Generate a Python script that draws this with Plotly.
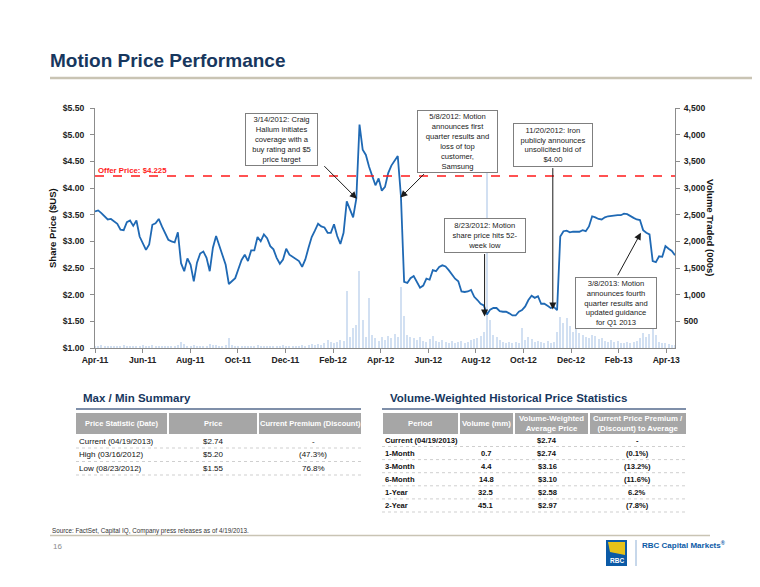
import pandas as pd
import plotly.graph_objects as go

# ---------------- DATA ----------------
START = "2011-04-19"
END = "2013-04-19"

PRICE = [
    3.56, 3.58, 3.53, 3.46, 3.41, 3.42, 3.37, 3.33, 3.22, 3.21,
    3.36, 3.39, 3.29, 3.39, 3.09, 2.97, 2.84, 2.94, 3.31, 3.34,
    3.42, 3.28, 3.14, 3.03, 3.00, 2.98, 3.17, 2.59, 2.44, 2.68,
    2.56, 2.25, 2.60, 2.77, 2.81, 2.69, 2.44, 2.88, 3.10, 2.91,
    2.75, 2.56, 2.20, 2.25, 2.31, 2.48, 2.65, 2.75, 2.63, 2.83,
    2.83, 3.08, 3.00, 3.13, 3.06, 2.91, 2.85, 2.69, 2.58, 2.66,
    2.86, 2.75, 2.71, 2.68, 2.63, 2.52, 2.66, 2.88, 3.08, 3.20,
    3.33, 3.28, 3.26, 3.16, 3.16, 3.32, 3.10, 2.95, 3.16, 3.75,
    3.60, 3.45, 3.80, 5.19, 4.72, 4.62, 4.40, 4.22, 4.05, 4.18,
    3.95, 4.02, 4.28, 4.42, 4.50, 4.60, 3.85, 2.24, 2.22, 2.31,
    2.35, 2.25, 2.13, 2.17, 2.30, 2.28, 2.46, 2.44, 2.52, 2.55,
    2.53, 2.46, 2.38, 2.30, 2.25, 2.06, 2.05, 2.06, 2.09, 1.96,
    1.90, 1.83, 1.80, 1.63, 1.72, 1.75, 1.75, 1.69, 1.68, 1.68,
    1.65, 1.61, 1.61, 1.68, 1.71, 1.78, 1.90, 1.98, 1.94, 1.97,
    1.83, 1.83, 1.79, 1.75, 1.77, 1.71, 3.09, 3.19, 3.20, 3.17,
    3.18, 3.18, 3.18, 3.21, 3.19, 3.28, 3.47, 3.45, 3.42, 3.41,
    3.45, 3.47, 3.48, 3.48, 3.49, 3.49, 3.52, 3.51, 3.47, 3.44,
    3.41, 3.40, 3.21, 3.16, 3.13, 2.63, 2.61, 2.72, 2.71, 2.91,
    2.86, 2.82, 2.74,
]

VOLUME = [
    40, 30, 60, 35, 25, 45, 30, 20, 35, 50,
    30, 25, 40, 20, 35, 55, 30, 45, 60, 40,
    30, 25, 35, 45, 30, 20, 50, 120, 70, 40,
    35, 60, 45, 30, 25, 40, 75, 50, 60, 40,
    30, 55, 190, 60, 45, 30, 25, 40, 35, 30,
    45, 60, 40, 30, 35, 25, 30, 40, 35, 50,
    45, 30, 25, 40, 35, 55, 45, 60, 70, 50,
    80, 60, 90, 155, 120, 90, 110, 150, 130, 1060,
    200, 380, 440, 1440, 520, 200, 940, 250, 180, 140,
    200, 150, 230, 180, 260, 200, 1150, 600, 250, 200,
    180, 150, 200, 140, 120, 160, 220, 130, 110, 150,
    120, 100, 140, 90, 110, 130, 100, 120, 150, 160,
    180, 220, 300, 3290, 530, 250, 200, 150, 120, 100,
    110, 90, 120, 100, 380, 150, 200, 160, 120, 140,
    110, 100, 130, 90, 120, 300, 590, 470, 560, 420,
    300, 350, 280, 250, 200, 180, 250, 220, 160, 190,
    140, 120, 150, 110, 130, 100, 90, 120, 100, 110,
    130, 180, 290, 200, 260, 405, 250, 120, 100, 90,
    80, 60, 50,
]

X_TICK_LABELS = ["Apr-11", "Jun-11", "Aug-11", "Oct-11", "Dec-11", "Feb-12", "Apr-12",
                 "Jun-12", "Aug-12", "Oct-12", "Dec-12", "Feb-13", "Apr-13"]
PRICE_TICKS = [1.0, 1.5, 2.0, 2.5, 3.0, 3.5, 4.0, 4.5, 5.0, 5.5]
VOLUME_TICKS = [500, 1000, 1500, 2000, 2500, 3000, 3500, 4000, 4500]
OFFER_PRICE = 4.225

EVENT_TEXTS = [
    "3/14/2012: Craig<br>Hallum initiates<br>coverage with a<br>buy rating and $5<br>price target",
    "5/8/2012: Motion<br>announces first<br>quarter results and<br>loss of top<br>customer,<br>Samsung",
    "11/20/2012: Iron<br>publicly announces<br>unsolicited bid of<br>$4.00",
    "8/23/2012: Motion<br>share price hits 52-<br>week low",
    "3/8/2013: Motion<br>announces fourth<br>quarter results and<br>updated guidance<br>for Q1 2013",
]
EVENT_DATES = ["2012-03-14", "2012-05-08", "2012-11-16", "2012-08-22", "2013-03-07"]
EVENT_PRICES = [3.80, 3.82, 1.72, 1.59, 3.16]

MM_HEADER = ["Price Statistic (Date)", "Price", "Current Premium (Discount)"]
MM_STAT = ["Current (04/19/2013)", "High (03/16/2012)", "Low (08/23/2012)"]
MM_PRICE = ["$2.74", "$5.20", "$1.55"]
MM_PREMIUM = ["-", "(47.3%)", "76.8%"]

VW_HEADER = ["Period", "Volume (mm)", "Volume-Weighted<br>Average Price",
             "Current Price Premium /<br>(Discount) to Average"]
VW_PERIOD = ["Current (04/19/2013)", "1-Month", "3-Month", "6-Month", "1-Year", "2-Year"]
VW_VOLUME = ["", "0.7", "4.4", "14.8", "32.5", "45.1"]
VW_VWAP = ["$2.74", "$2.74", "$3.16", "$3.10", "$2.58", "$2.97"]
VW_PREMIUM = ["-", "(0.1%)", "(13.2%)", "(11.6%)", "6.2%", "(7.8%)"]

# ---------------- STYLE / GEOMETRY ----------------
FONT = "Liberation Sans, Arial, sans-serif"
NAVY = "#17375e"
PAGE_W, PAGE_H = 760, 587
OFF = 8  # the page body has an 8px margin; the figure is drawn from (8, 8)
W, H = PAGE_W - OFF, PAGE_H - OFF
L, R, T, B = 95, 675, 108, 348          # plot area in page pixels
AXIS_GRAY = "#8c8c8c"


def px(x):
    return (x - L) / (R - L)


def py(y):
    return (B - y) / (B - T)


dates = pd.date_range(START, END, periods=len(PRICE))
tickvals = [pd.Timestamp(START) + pd.Timedelta(days=60 * k) for k in range(len(X_TICK_LABELS))]

fig = go.Figure()
fig.add_trace(go.Bar(x=dates, y=VOLUME, yaxis="y", marker=dict(color="#d2e0f2", line=dict(width=0)),
                     width=1.3 * 86400000, hoverinfo="skip"))
fig.add_trace(go.Scatter(x=dates, y=PRICE, yaxis="y2", mode="lines",
                         line=dict(color="#1f69b4", width=1.8)))

tickfont = dict(size=8.6, weight="bold", color="#222222", family=FONT)
fig.update_layout(
    width=W, height=H,
    margin=dict(l=L - OFF, r=PAGE_W - R, t=T - OFF, b=PAGE_H - B, pad=0),
    paper_bgcolor="white", plot_bgcolor="white",
    showlegend=False,
    font=dict(family=FONT, color="#222222"),
    bargap=0,
    xaxis=dict(type="date", range=[START, END], tickvals=tickvals, ticktext=X_TICK_LABELS,
               showline=True, linecolor=AXIS_GRAY, linewidth=1, ticks="outside", ticklen=4,
               tickcolor=AXIS_GRAY, tickfont=tickfont, showgrid=False, zeroline=False),
    yaxis=dict(side="right", range=[0, 4500], tickvals=VOLUME_TICKS,
               ticktext=["{:,}".format(v) for v in VOLUME_TICKS],
               showline=True, linecolor=AXIS_GRAY, linewidth=1, ticks="outside", ticklen=4,
               tickcolor=AXIS_GRAY, tickfont=tickfont, showgrid=False, zeroline=False,
               ticklabelstandoff=2),
    yaxis2=dict(overlaying="y", side="left", range=[1, 5.5], tickvals=PRICE_TICKS,
                ticktext=["${:.2f}".format(v) for v in PRICE_TICKS],
                showline=True, linecolor=AXIS_GRAY, linewidth=1, ticks="outside", ticklen=4,
                tickcolor=AXIS_GRAY, tickfont=tickfont, showgrid=False, zeroline=False,
                ticklabelstandoff=4),
)

# offer price line
fig.add_shape(type="line", xref="paper", yref="y2", x0=0, x1=1, y0=OFFER_PRICE, y1=OFFER_PRICE,
              line=dict(color="#ff1a1a", width=1.5, dash="dash"))


def text(x, y, s, size, color="#111111", bold=False, xanchor="left", yanchor="middle",
         angle=0, family=FONT):
    fig.add_annotation(x=px(x), y=py(y), xref="paper", yref="paper", text=s, showarrow=False,
                       font=dict(size=size, color=color, weight="bold" if bold else "normal",
                                 family=family),
                       xanchor=xanchor, yanchor=yanchor, textangle=angle, borderpad=0)


def rect(x0, y0, x1, y1, fill):
    fig.add_shape(type="rect", xref="paper", yref="paper", x0=px(x0), x1=px(x1),
                  y0=py(y0), y1=py(y1), fillcolor=fill, line=dict(width=0))


def hline(x0, x1, y, color, width=1, dash="solid"):
    fig.add_shape(type="line", xref="paper", yref="paper", x0=px(x0), x1=px(x1),
                  y0=py(y), y1=py(y), line=dict(color=color, width=width, dash=dash))


def vline(x, y0, y1, color, width=1):
    fig.add_shape(type="line", xref="paper", yref="paper", x0=px(x), x1=px(x),
                  y0=py(y0), y1=py(y1), line=dict(color=color, width=width))


text(97, 170, "Offer Price: $4.225", 7.8, color="#ff1a1a", bold=True)

# axis titles
text(52, 228, "Share Price ($US)", 9.5, bold=True, xanchor="center", angle=-90)
text(711, 228, "Volume Traded (000s)", 9.5, bold=True, xanchor="center", angle=90)

# event boxes
EVENT_BOXES = [(245, 113, 318, 166), (417, 110, 498, 173), (513, 123, 593, 167),
               (444, 218, 526, 253), (575, 277, 657, 329)]
EVENT_OFFSETS = [(-34, -34), (25, -25), (0, -143), (0, -64), (-24, 44)]
for s, (x0, y0, x1, y1) in zip(EVENT_TEXTS, EVENT_BOXES):
    fig.add_annotation(x=px((x0 + x1) / 2), y=py((y0 + y1) / 2), xref="paper", yref="paper",
                       text=s, showarrow=False, align="center",
                       font=dict(size=7.6, color="#1a1a1a", family=FONT),
                       bgcolor="white", bordercolor="#7f7f7f", borderwidth=1, borderpad=0,
                       width=x1 - x0 - 2, height=y1 - y0 - 2,
                       xanchor="center", yanchor="middle")
for d, p, (ax, ay) in zip(EVENT_DATES, EVENT_PRICES, EVENT_OFFSETS):
    fig.add_annotation(x=d, y=p, xref="x", yref="y2", text="", showarrow=True,
                       ax=ax, ay=ay, arrowhead=2, arrowsize=1.4, arrowwidth=1,
                       arrowcolor="#1a1a1a", standoff=0)

# title
text(49, 60, "Motion Price Performance", 19, color=NAVY, bold=True)
hline(50, 760, 78, "#c9c4b4", width=2.5)

# ---------------- Max / Min table ----------------
HEADER_FILL = "#a6a6a6"
text(82, 398, "Max / Min Summary", 11.5, color=NAVY, bold=True)
hline(76, 361, 409, "#7f8fa9", width=2)
mm_cols = [(76, 167), (169, 257), (259, 361)]
for (c0, c1), h in zip(mm_cols, MM_HEADER):
    rect(c0, 413, c1, 434, HEADER_FILL)
    text((c0 + c1) / 2, 423.5, h, 7.5, color="white", bold=True, xanchor="center")
for k, (a, b, c) in enumerate(zip(MM_STAT, MM_PRICE, MM_PREMIUM)):
    yy = 441 + k * 13.5
    text(78, yy, a, 8)
    text(213, yy, b, 8, xanchor="center")
    text(313, yy, c, 8, xanchor="center")
    hline(76, 361, yy + 7, "#cfcfcf", width=1, dash="dot")

# ---------------- Volume-weighted table ----------------
text(389, 398, "Volume-Weighted Historical Price Statistics", 11.5, color=NAVY, bold=True)
hline(382, 686, 409, "#7f8fa9", width=2)
vw_cols = [(383, 458), (460, 513), (515, 588), (590, 686)]
for (c0, c1), h in zip(vw_cols, VW_HEADER):
    rect(c0, 413, c1, 434, HEADER_FILL)
    text((c0 + c1) / 2, 423.5, h, 7.8, color="white", bold=True, xanchor="center")
for k, (a, b, c, d) in enumerate(zip(VW_PERIOD, VW_VOLUME, VW_VWAP, VW_PREMIUM)):
    yy = 440 + k * 13.1
    text(384, yy, a, 7.6, bold=True)
    text(486, yy, b, 7.6, bold=True, xanchor="center")
    text(547, yy, c, 7.6, bold=True, xanchor="center")
    text(637, yy, d, 7.6, bold=True, xanchor="center")
    hline(382, 686, yy + 6.5, "#cfcfcf", width=1, dash="dot")

# ---------------- footer ----------------
text(51, 531, "Source: FactSet, Capital IQ, Company press releases as of 4/19/2013.", 6.3,
     color="#333333")
hline(50, 710, 535.5, "#c9c4b4", width=1.5)
text(52, 546, "16", 8, color="#8c8c8c")
rect(606, 540, 627, 566, "#0b5aa6")
fig.add_shape(type="path", xref="paper", yref="paper",
              path="M {} {} L {} {} L {} {} L {} {} Z".format(px(608), py(542), px(625), py(542),
                                                              px(625), py(555), px(610), py(552)),
              fillcolor="#e6c21a", line=dict(width=0))
text(616.5, 560.5, "RBC", 6.5, color="white", bold=True, xanchor="center")
vline(636, 540, 566, "#8fb0d6", width=1)
text(641, 545, "RBC Capital Markets<sup>®</sup>", 8, color="#0b5aa6", bold=True,
     family="Liberation Sans Narrow, Arial Narrow, Liberation Sans, sans-serif")

fig.write_html("out.html")
